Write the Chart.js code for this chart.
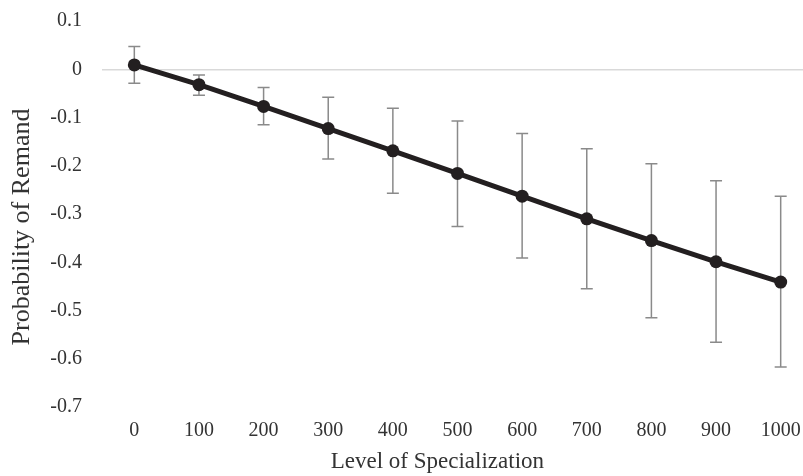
<!DOCTYPE html>
<html lang="en">
<head>
  <meta charset="UTF-8" />
  <title>Probability of Remand</title>
  <script src="https://cdn.jsdelivr.net/npm/chart.js"></script>
  <style>
    html, body {
      margin: 0;
      padding: 0;
      background: #fff;
      overflow: hidden;
    }
    canvas {
      display: block;
    }
  </style>
</head>
<body>
  <canvas id="chart" width="813" height="476"></canvas>

  <script>
    const labels = ['0', '100', '200', '300', '400', '500', '600', '700', '800', '900', '1000'];
    const values = [0.009, -0.032, -0.077, -0.123, -0.169, -0.216, -0.263, -0.310, -0.355, -0.399, -0.441];
    const errHigh = [0.047, -0.012, -0.038, -0.058, -0.081, -0.107, -0.133, -0.165, -0.196, -0.231, -0.263];
    const errLow = [-0.029, -0.054, -0.115, -0.186, -0.257, -0.326, -0.391, -0.455, -0.515, -0.566, -0.617];

    // draws the error bars under the line
    const errorBars = {
      id: 'errorBars',
      beforeDatasetsDraw(chart) {
        const ctx = chart.ctx;
        const x = chart.scales.x;
        const y = chart.scales.y;
        ctx.save();
        ctx.strokeStyle = '#8a8a8a';
        ctx.lineWidth = 1.5;
        labels.forEach((lab, i) => {
          const px = x.getPixelForValue(i);
          const top = y.getPixelForValue(errHigh[i]);
          const bot = y.getPixelForValue(errLow[i]);
          ctx.beginPath();
          ctx.moveTo(px, top);
          ctx.lineTo(px, bot);
          ctx.moveTo(px - 6, top);
          ctx.lineTo(px + 6, top);
          ctx.moveTo(px - 6, bot);
          ctx.lineTo(px + 6, bot);
          ctx.stroke();
        });
        ctx.restore();
      }
    };

    const font = 'Liberation Serif';
    const pad = n => '\u00a0'.repeat(n);

    new Chart(document.getElementById('chart'), {
      type: 'line',
      data: {
        labels: labels,
        datasets: [{
          data: values,
          borderColor: '#231f20',
          backgroundColor: '#231f20',
          borderWidth: 5,
          pointRadius: 6.5,
          pointBorderWidth: 0,
          tension: 0
        }]
      },
      options: {
        responsive: false,
        animation: false,
        layout: { autoPadding: false, padding: { top: 21, right: 0, left: 0, bottom: 0 } },
        plugins: {
          legend: { display: false },
          tooltip: { enabled: false }
        },
        scales: {
          x: {
            offset: true,
            grid: { display: false },
            border: { display: false },
            ticks: { color: '#333', font: { family: font, size: 20 }, padding: 4, maxRotation: 0 },
            title: { display: true, text: 'Level of Specialization' + pad(7), color: '#333', font: { family: font, size: 23 }, padding: { top: 0, bottom: 0 } },
            afterFit(scale) { scale.height = 69; }
          },
          y: {
            min: -0.7,
            max: 0.1,
            ticks: {
              stepSize: 0.1,
              color: '#333',
              font: { family: font, size: 20 },
              padding: 20,
              callback: v => {
                const r = Math.round(v * 10) / 10;
                return r === 0 ? '0' : String(r);
              }
            },
            grid: {
              drawTicks: false,
              lineWidth: 1.5,
              color: c => (Math.abs(c.tick.value) < 1e-9 ? '#d9d9d9' : 'rgba(0,0,0,0)')
            },
            border: { display: false },
            title: { display: true, text: 'Probability of Remand' + pad(4), color: '#333', font: { family: font, size: 26 }, padding: { top: 7, bottom: 0 } },
            afterFit(scale) {
              scale.width = 102;
              scale.paddingTop = 0;
              scale.paddingBottom = 0;
            }
          }
        }
      },
      plugins: [errorBars]
    });
  </script>
</body>
</html>
